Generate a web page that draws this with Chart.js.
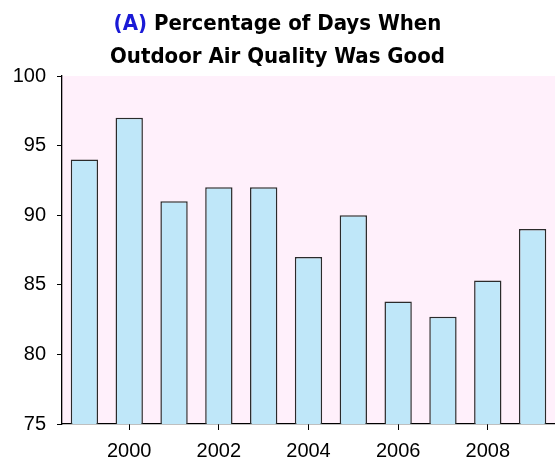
<!DOCTYPE html>
<html>
<head>
<meta charset="utf-8">
<script src="https://cdn.jsdelivr.net/npm/chart.js@4/dist/chart.umd.min.js"></script>
<style>
  html, body { margin: 0; padding: 0; background: #ffffff; }
  #wrap { width: 555px; height: 462px; position: relative; }
</style>
</head>
<body>
<div id="wrap"><canvas id="airChart" width="555" height="462"></canvas></div>
<script>
// Data
const years = ["1999", "2000", "2001", "2002", "2003", "2004", "2005", "2006", "2007", "2008", "2009"];
const goodDaysPct = [94, 97, 91, 92, 92, 87, 90, 83.8, 82.7, 85.3, 89];
const yTicks = [75, 80, 85, 90, 95, 100];
const titlePrefix = "(A)";
const titleLine1 = " Percentage of Days When";
const titleLine2 = "Outdoor Air Quality Was Good";

const titleFont = "bold 22px 'Comic Sans MS', 'DejaVu Sans Condensed', 'DejaVu Sans', sans-serif";
const tickFont = { family: "'Liberation Sans', Arial, sans-serif", size: 20 };

// pink plot background
const plotBackground = {
  id: "plotBackground",
  beforeDraw(chart) {
    const { ctx, chartArea } = chart;
    ctx.save();
    ctx.fillStyle = "#fff0fb";
    ctx.fillRect(chartArea.left, chartArea.top, chartArea.right - chartArea.left, chartArea.bottom - chartArea.top);
    ctx.restore();
  }
};

// two-line title, "(A)" in blue
const twoColorTitle = {
  id: "twoColorTitle",
  afterDraw(chart) {
    const ctx = chart.ctx;
    const cx = chart.width / 2;
    ctx.save();
    ctx.font = titleFont;
    ctx.textBaseline = "alphabetic";
    ctx.textAlign = "left";
    const w1 = ctx.measureText(titlePrefix).width;
    const w2 = ctx.measureText(titleLine1).width;
    let x = cx - (w1 + w2) / 2;
    ctx.fillStyle = "#1a1ad6";
    ctx.fillText(titlePrefix, x, 30);
    ctx.fillStyle = "#000000";
    ctx.fillText(titleLine1, x + w1, 30);
    ctx.textAlign = "center";
    ctx.fillText(titleLine2, cx, 63);
    ctx.restore();
  }
};

new Chart(document.getElementById("airChart").getContext("2d"), {
  type: "bar",
  data: {
    labels: years,
    datasets: [{
      data: goodDaysPct,
      backgroundColor: "#bfe7f9",
      borderColor: "#2b2b2b",
      borderWidth: 1.5,
      borderSkipped: false,
      barPercentage: 0.61,
      categoryPercentage: 1.0
    }]
  },
  options: {
    responsive: false,
    animation: false,
    layout: { padding: { top: 76, right: 0, bottom: 0, left: 0 } },
    plugins: {
      legend: { display: false },
      title: { display: false },
      tooltip: { enabled: false }
    },
    scales: {
      x: {
        grid: {
          offset: false,
          drawOnChartArea: false,
          drawTicks: true,
          tickLength: 6,
          color: c => (c.index % 2 === 1 ? "#000000" : "rgba(0,0,0,0)")
        },
        border: { display: true, color: "#000000", width: 1.3 },
        ticks: {
          autoSkip: false,
          maxRotation: 0,
          padding: 9,
          color: "#000000",
          font: tickFont,
          callback: function (val, i) { return i % 2 === 1 ? years[i] : ""; }
        },
        afterFit: s => { s.height = 38; }
      },
      y: {
        min: 75,
        max: 100,
        afterBuildTicks: s => { s.ticks = yTicks.map(v => ({ value: v })); },
        grid: {
          drawOnChartArea: false,
          drawTicks: true,
          tickLength: 5,
          color: "#000000"
        },
        border: { display: true, color: "#000000", width: 1.3 },
        ticks: {
          padding: 11,
          color: "#000000",
          font: tickFont
        },
        afterFit: s => { s.width = 62; }
      }
    }
  },
  plugins: [plotBackground, twoColorTitle]
});
</script>
</body>
</html>
